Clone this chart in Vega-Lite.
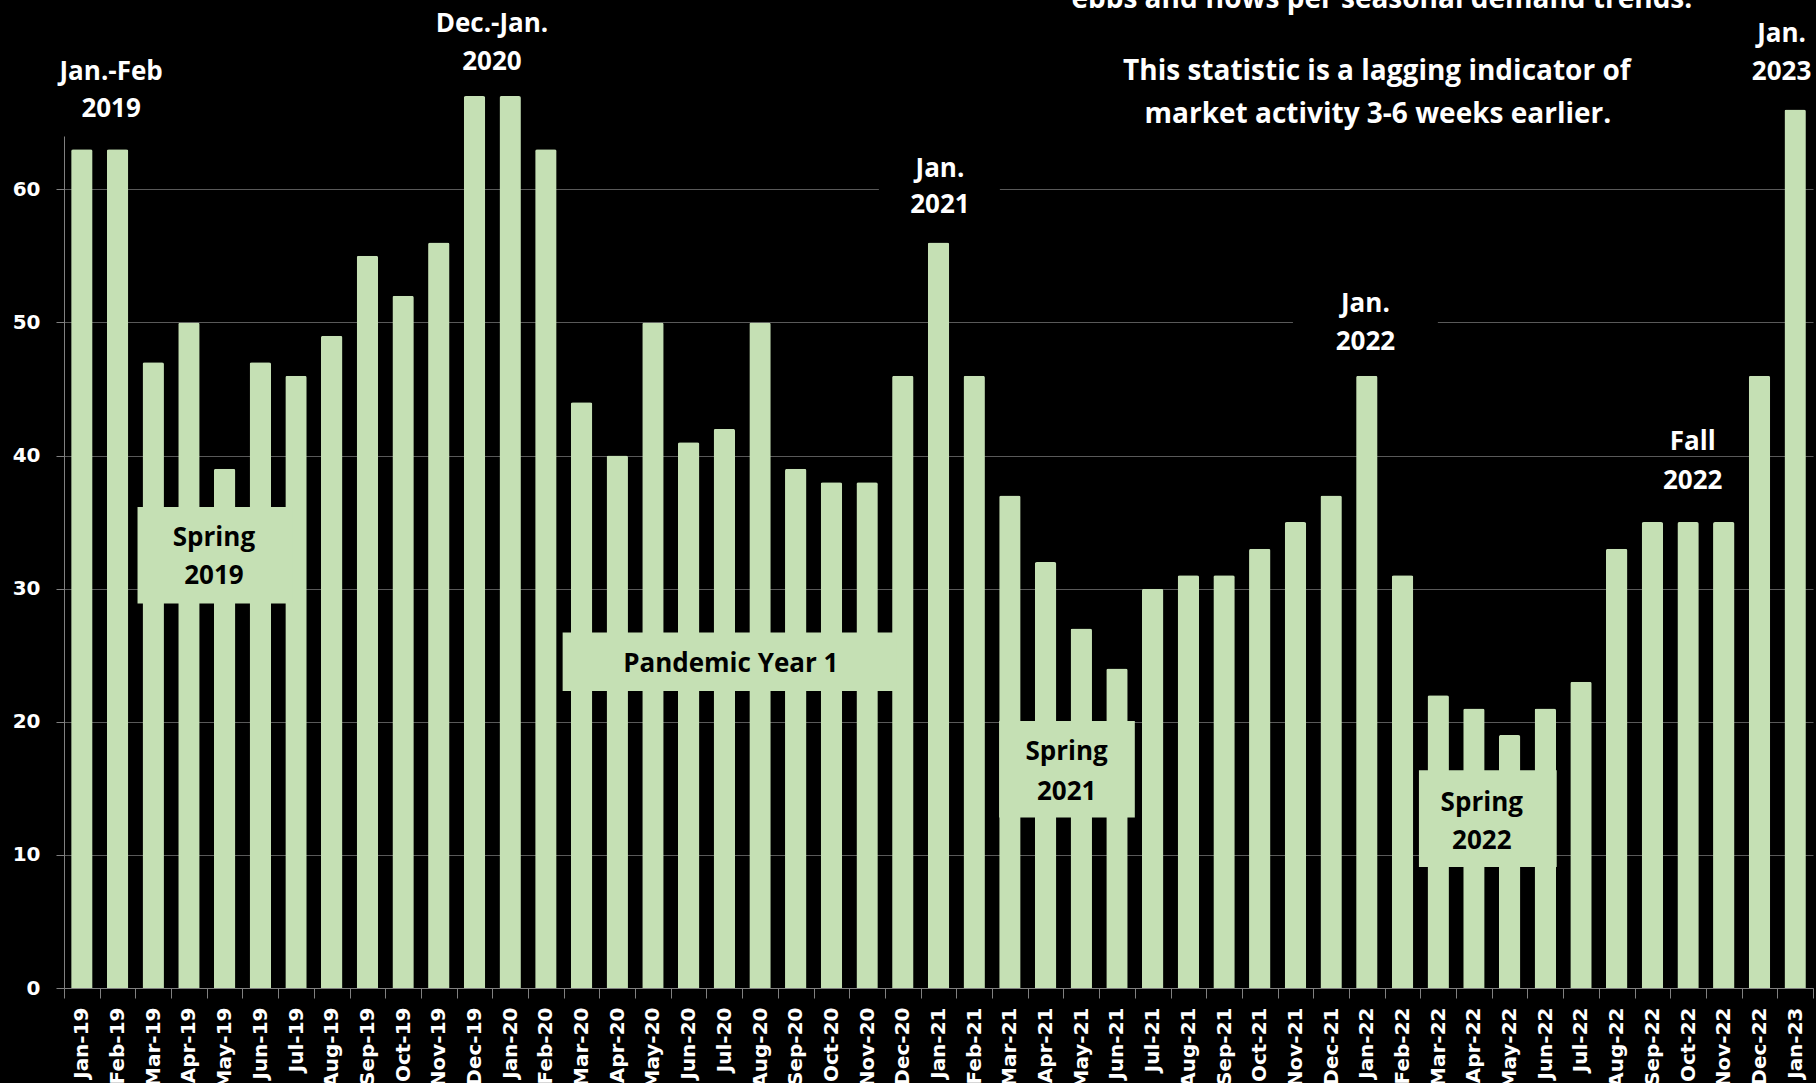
{
  "$schema": "https://vega.github.io/schema/vega-lite/v6.json",
  "width": 1749,
  "height": 852,
  "autosize": {"type": "none"},
  "padding": {"left": 64, "top": 136, "right": 3, "bottom": 95},
  "background": "#000000",
  "config": {
    "view": {"stroke": null},
    "axis": {
      "labelColor": "#ffffff",
      "labelFont": "DejaVu Sans",
      "labelFontWeight": "bold",
      "labelFontSize": 20,
      "domainColor": "#808080",
      "tickColor": "#808080",
      "gridColor": "#595959"
    }
  },
  "datasets": {
    "bars": [
      {"month": "Jan-19", "value": 63}, {"month": "Feb-19", "value": 63}, {"month": "Mar-19", "value": 47},
      {"month": "Apr-19", "value": 50}, {"month": "May-19", "value": 39}, {"month": "Jun-19", "value": 47},
      {"month": "Jul-19", "value": 46}, {"month": "Aug-19", "value": 49}, {"month": "Sep-19", "value": 55},
      {"month": "Oct-19", "value": 52}, {"month": "Nov-19", "value": 56}, {"month": "Dec-19", "value": 67},
      {"month": "Jan-20", "value": 67}, {"month": "Feb-20", "value": 63}, {"month": "Mar-20", "value": 44},
      {"month": "Apr-20", "value": 40}, {"month": "May-20", "value": 50}, {"month": "Jun-20", "value": 41},
      {"month": "Jul-20", "value": 42}, {"month": "Aug-20", "value": 50}, {"month": "Sep-20", "value": 39},
      {"month": "Oct-20", "value": 38}, {"month": "Nov-20", "value": 38}, {"month": "Dec-20", "value": 46},
      {"month": "Jan-21", "value": 56}, {"month": "Feb-21", "value": 46}, {"month": "Mar-21", "value": 37},
      {"month": "Apr-21", "value": 32}, {"month": "May-21", "value": 27}, {"month": "Jun-21", "value": 24},
      {"month": "Jul-21", "value": 30}, {"month": "Aug-21", "value": 31}, {"month": "Sep-21", "value": 31},
      {"month": "Oct-21", "value": 33}, {"month": "Nov-21", "value": 35}, {"month": "Dec-21", "value": 37},
      {"month": "Jan-22", "value": 46}, {"month": "Feb-22", "value": 31}, {"month": "Mar-22", "value": 22},
      {"month": "Apr-22", "value": 21}, {"month": "May-22", "value": 19}, {"month": "Jun-22", "value": 21},
      {"month": "Jul-22", "value": 23}, {"month": "Aug-22", "value": 33}, {"month": "Sep-22", "value": 35},
      {"month": "Oct-22", "value": 35}, {"month": "Nov-22", "value": 35}, {"month": "Dec-22", "value": 46},
      {"month": "Jan-23", "value": 66}
    ],
    "bgs": [
      {"x1": 22.83, "x2": 26.22, "y1": 56.6, "y2": 63.0},
      {"x1": 34.43, "x2": 38.49, "y1": 46.6, "y2": 53.0}
    ],
    "boxes": [
      {"x1": 2.06, "x2": 6.4, "y1": 28.88, "y2": 36.14},
      {"x1": 13.97, "x2": 23.31, "y1": 22.31, "y2": 26.7},
      {"x1": 26.2, "x2": 30.0, "y1": 12.8, "y2": 20.06},
      {"x1": 37.96, "x2": 41.82, "y1": 9.09, "y2": 16.36}
    ],
    "labels": [
      {"text": "Jan.-Feb", "x": 1.32, "y": 68.2},
      {"text": "2019", "x": 1.32, "y": 65.44},
      {"text": "Dec.-Jan.", "x": 11.99, "y": 71.83},
      {"text": "2020", "x": 11.99, "y": 68.95},
      {"text": "Jan.", "x": 24.54, "y": 60.93},
      {"text": "2021", "x": 24.54, "y": 58.18},
      {"text": "Jan.", "x": 36.46, "y": 50.79},
      {"text": "2022", "x": 36.46, "y": 47.91},
      {"text": "Fall", "x": 45.63, "y": 40.4},
      {"text": "2022", "x": 45.63, "y": 37.52},
      {"text": "Jan.", "x": 48.12, "y": 71.08},
      {"text": "2023", "x": 48.12, "y": 68.2}
    ],
    "notes": [
      {"text": "ebbs and flows per seasonal demand trends.", "x": 36.92, "y": 73.6},
      {"text": "This statistic is a lagging indicator of", "x": 36.78, "y": 68.2},
      {"text": "market activity 3-6 weeks earlier.", "x": 36.81, "y": 64.94}
    ],
    "boxtext": [
      {"text": "Spring", "x": 4.2, "y": 33.18},
      {"text": "2019", "x": 4.2, "y": 30.33},
      {"text": "Pandemic Year 1", "x": 18.68, "y": 23.74},
      {"text": "Spring", "x": 28.09, "y": 17.14},
      {"text": "2021", "x": 28.09, "y": 14.15},
      {"text": "Spring", "x": 39.72, "y": 13.33},
      {"text": "2022", "x": 39.72, "y": 10.47}
    ]
  },
  "layer": [
    {
      "data": {"name": "bars"},
      "mark": {"type": "bar", "color": "#c5e0b4", "width": {"band": 0.6}, "cornerRadiusEnd": 2},
      "encoding": {
        "x": {
          "field": "month", "type": "ordinal", "sort": null,
          "scale": {"paddingInner": 0, "paddingOuter": 0},
          "axis": {"title": null, "labelAngle": -90, "tickBand": "extent", "tickSize": 10, "labelPadding": 9, "grid": false, "labelOverlap": false}
        },
        "y": {
          "field": "value", "type": "quantitative",
          "scale": {"domain": [0, 64], "nice": false},
          "axis": {"title": null, "values": [0, 10, 20, 30, 40, 50, 60], "tickSize": 8, "labelPadding": 16, "grid": true, "gridWidth": 1}
        }
      }
    },
    {
      "layer": [
        {
          "data": {"name": "bgs"},
          "mark": {"type": "rect", "color": "#000000"},
          "encoding": {
            "x": {"field": "x1", "type": "quantitative", "scale": {"domain": [0, 49], "nice": false, "zero": false}, "axis": null},
            "x2": {"field": "x2"},
            "y": {"field": "y1", "type": "quantitative", "scale": {"domain": [0, 64], "nice": false}, "axis": null},
            "y2": {"field": "y2"}
          }
        },
        {
          "data": {"name": "boxes"},
          "mark": {"type": "rect", "color": "#c5e0b4"},
          "encoding": {
            "x": {"field": "x1", "type": "quantitative", "scale": {"domain": [0, 49], "nice": false, "zero": false}, "axis": null},
            "x2": {"field": "x2"},
            "y": {"field": "y1", "type": "quantitative", "scale": {"domain": [0, 64], "nice": false}, "axis": null},
            "y2": {"field": "y2"}
          }
        },
        {
          "data": {"name": "labels"},
          "mark": {"type": "text", "font": "Open Sans", "fontWeight": "bold", "fontSize": 26, "color": "#ffffff", "align": "center", "baseline": "alphabetic"},
          "encoding": {
            "x": {"field": "x", "type": "quantitative", "scale": {"domain": [0, 49], "nice": false, "zero": false}, "axis": null},
            "y": {"field": "y", "type": "quantitative", "scale": {"domain": [0, 64], "nice": false}, "axis": null},
            "text": {"field": "text"}
          }
        },
        {
          "data": {"name": "notes"},
          "mark": {"type": "text", "font": "Open Sans", "fontWeight": "bold", "fontSize": 28, "color": "#ffffff", "align": "center", "baseline": "alphabetic"},
          "encoding": {
            "x": {"field": "x", "type": "quantitative", "scale": {"domain": [0, 49], "nice": false, "zero": false}, "axis": null},
            "y": {"field": "y", "type": "quantitative", "scale": {"domain": [0, 64], "nice": false}, "axis": null},
            "text": {"field": "text"}
          }
        },
        {
          "data": {"name": "boxtext"},
          "mark": {"type": "text", "font": "Open Sans", "fontWeight": "bold", "fontSize": 26, "color": "#000000", "align": "center", "baseline": "alphabetic"},
          "encoding": {
            "x": {"field": "x", "type": "quantitative", "scale": {"domain": [0, 49], "nice": false, "zero": false}, "axis": null},
            "y": {"field": "y", "type": "quantitative", "scale": {"domain": [0, 64], "nice": false}, "axis": null},
            "text": {"field": "text"}
          }
        }
      ]
    }
  ],
  "resolve": {"scale": {"x": "independent", "y": "independent"}}
}
